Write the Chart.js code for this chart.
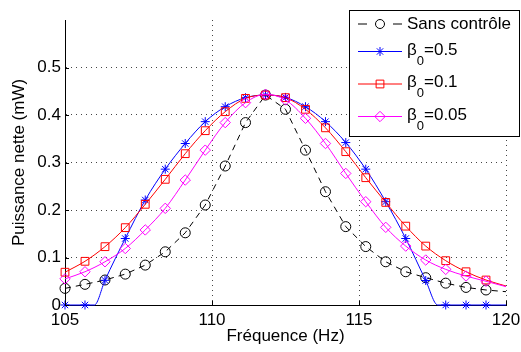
<!DOCTYPE html>
<html><head><meta charset="utf-8">
<script src="https://cdn.jsdelivr.net/npm/chart.js@4/dist/chart.umd.min.js"></script>
<style>html,body{margin:0;padding:0;background:#fff}#wrap{width:521px;height:352px}</style>
</head><body><div id="wrap"><canvas id="c" width="521" height="352"></canvas></div>
<script>
// ---- data ----
const freq = [105, 105.68, 106.36, 107.05, 107.73, 108.41, 109.09, 109.77, 110.45, 111.14, 111.82,
              112.5, 113.18, 113.86, 114.55, 115.23, 115.91, 116.59, 117.27, 117.95, 118.64, 119.32, 120];
const sansControle = [0.035, 0.0435, 0.0526, 0.065, 0.084, 0.112, 0.152, 0.2105, 0.2926, 0.384, 0.442,
                      0.412, 0.326, 0.2385, 0.165, 0.123, 0.091, 0.070, 0.0575, 0.046, 0.037, 0.0316, 0.028];
const beta05 = [0, 0, 0.052, 0.140, 0.221, 0.286, 0.340, 0.386, 0.4175, 0.4365, 0.442,
                0.437, 0.4175, 0.386, 0.342, 0.286, 0.2175, 0.140, 0.0515, 0, 0, 0, 0];
const beta05ZeroEdges = [106.0, 117.68];   // where the β0=0.5 curve leaves / reaches zero
const beta01 = [0.069, 0.092, 0.1228, 0.1628, 0.212, 0.2646, 0.3186, 0.367, 0.407, 0.435, 0.442,
                0.4365, 0.412, 0.373, 0.3228, 0.268, 0.216, 0.166, 0.124, 0.0933, 0.070, 0.0526, 0.040];
const beta005 = [0.055, 0.070, 0.091, 0.119, 0.158, 0.2035, 0.263, 0.326, 0.384, 0.426, 0.4435,
                 0.4316, 0.393, 0.340, 0.277, 0.2175, 0.1635, 0.124, 0.0947, 0.075, 0.061, 0.050, 0.0386];
const seriesNames = ['Sans contrôle', 'β_0=0.5', 'β_0=0.1', 'β_0=0.05'];
const xTicks = [105, 110, 115, 120];
const yTicks = [0, 0.1, 0.2, 0.3, 0.4, 0.5];
const xTitle = 'Fréquence (Hz)';
const yTitle = 'Puissance nette (mW)';

// ---- build datasets ----
const FONT = "'Liberation Sans', Arial, Helvetica, sans-serif";
const LAST_X = freq[freq.length - 1];
function pts(vals, extra) {
  const p = freq.map((f, i) => ({x: f, y: vals[i], m: f !== LAST_X}));
  (extra || []).forEach(x => p.push({x: x, y: 0, m: false}));
  p.sort((a, b) => a.x - b.x);
  return p;
}
const styles = [
  {color: '#000000', point: 'circle', r: 5, dash: [6, 5], mono: false},
  {color: '#0000ff', point: 'star', r: 4.5, dash: [], mono: true},
  {color: '#ff0000', point: 'rect', r: 5.5, dash: [], mono: true},
  {color: '#ff00ff', point: 'rectRot', r: 5.2, dash: [], mono: true}
];
const values = [sansControle, beta05, beta01, beta005];
const datasets = values.map((v, k) => {
  const d = pts(v, k === 1 ? beta05ZeroEdges : null);
  const s = styles[k];
  return {
    label: seriesNames[k].replace('_', ''),
    data: d.map(q => ({x: q.x, y: q.y})),
    borderColor: s.color,
    borderWidth: 1,
    borderDash: s.dash,
    pointStyle: s.point,
    pointRadius: d.map(q => q.m ? s.r : 0),
    pointBorderColor: s.color,
    pointBackgroundColor: 'rgba(0,0,0,0)',
    pointBorderWidth: 1,
    pointHoverRadius: 0,
    fill: false,
    tension: 0,
    cubicInterpolationMode: s.mono ? 'monotone' : 'default',
    clip: false,
    order: 3 - k
  };
});

function marker(ctx, style, r, x, y) {
  ctx.beginPath();
  if (style === 'circle') {
    ctx.arc(x, y, r, 0, Math.PI * 2);
  } else if (style === 'star') {
    const d = r * Math.SQRT1_2;
    ctx.moveTo(x - r, y); ctx.lineTo(x + r, y);
    ctx.moveTo(x, y - r); ctx.lineTo(x, y + r);
    ctx.moveTo(x - d, y - d); ctx.lineTo(x + d, y + d);
    ctx.moveTo(x - d, y + d); ctx.lineTo(x + d, y - d);
  } else if (style === 'rect') {
    const s = r * Math.SQRT1_2;
    ctx.rect(x - s, y - s, 2 * s, 2 * s);
  } else if (style === 'rectRot') {
    ctx.moveTo(x - r, y); ctx.lineTo(x, y - r); ctx.lineTo(x + r, y); ctx.lineTo(x, y + r); ctx.closePath();
  }
  ctx.stroke();
}

// small inward tick marks, MATLAB style
const innerTicks = {
  id: 'innerTicks',
  afterDraw(chart) {
    const ctx = chart.ctx, xs = chart.scales.x, ys = chart.scales.y, a = chart.chartArea;
    ctx.save();
    ctx.strokeStyle = '#000'; ctx.lineWidth = 1; ctx.setLineDash([]);
    ctx.beginPath();
    xTicks.forEach(v => { const px = Math.round(xs.getPixelForValue(v)) + 0.5; ctx.moveTo(px, a.bottom); ctx.lineTo(px, a.bottom - 4); });
    yTicks.forEach(v => { const py = Math.round(ys.getPixelForValue(v)) + 0.5; ctx.moveTo(a.left, py); ctx.lineTo(a.left + 4, py); });
    ctx.stroke();
    ctx.restore();
  }
};

const legendPlugin = {
  id: 'matlabLegend',
  afterDraw(chart) {
    const ctx = chart.ctx;
    ctx.save();
    const bx = 349.5, by = 10.5, bw = 170, bh = 126;
    ctx.fillStyle = '#fff';
    ctx.fillRect(bx, by, bw, bh);
    ctx.strokeStyle = '#000'; ctx.lineWidth = 1; ctx.setLineDash([]);
    ctx.strokeRect(bx, by, bw, bh);
    const rows = [24, 51.5, 84, 116.5];
    seriesNames.forEach((name, k) => {
      const s = styles[k], y = rows[k];
      ctx.strokeStyle = s.color; ctx.lineWidth = 1;
      ctx.setLineDash(k === 0 ? [9, 26] : []);
      ctx.beginPath(); ctx.moveTo(358, y); ctx.lineTo(402, y); ctx.stroke();
      ctx.setLineDash([]);
      marker(ctx, s.point, k === 0 ? 4.5 : s.r, 380, y);
      ctx.fillStyle = '#000';
      ctx.textBaseline = 'middle'; ctx.textAlign = 'left';
      const parts = name.split('_');
      let x = 407;
      if (parts.length === 1) {
        ctx.font = '17px ' + FONT;
        ctx.fillText(name, x, y + 0.5);
      } else {
        const ty = y - 1.5;
        ctx.font = '17px ' + FONT;
        ctx.fillText(parts[0], x, ty);
        x += ctx.measureText(parts[0]).width;
        const sub = parts[1].charAt(0), rest = parts[1].slice(1);
        ctx.font = '13px ' + FONT;
        ctx.fillText(sub, x, ty + 11);
        x += ctx.measureText(sub).width;
        ctx.font = '17px ' + FONT;
        ctx.fillText(rest, x, ty);
      }
    });
    ctx.restore();
  }
};

new Chart(document.getElementById('c'), {
  type: 'line',
  data: {datasets: datasets},
  plugins: [innerTicks, legendPlugin],
  options: {
    responsive: false,
    animation: false,
    devicePixelRatio: 1,
    layout: {padding: {top: 20, right: 15, left: 0, bottom: 0}},
    plugins: {legend: {display: false}, tooltip: {enabled: false}},
    scales: {
      x: {
        type: 'linear', min: 105, max: 120,
        afterBuildTicks: sc => { sc.ticks = xTicks.map(v => ({value: v})); },
        afterFit: sc => { sc.height = 47; sc.paddingLeft = 0; sc.paddingRight = 0; },
        ticks: {color: '#000', font: {family: FONT, size: 17}, padding: 5, maxRotation: 0, autoSkip: false},
        grid: {color: '#444', lineWidth: 1, drawTicks: false},
        border: {display: true, color: '#000', width: 1, dash: [1, 4]},
        title: {display: true, text: xTitle, color: '#000', font: {family: FONT, size: 17}, padding: {top: 0, bottom: 5}}
      },
      y: {
        type: 'linear', min: 0, max: 0.6,
        afterBuildTicks: sc => { sc.ticks = yTicks.map(v => ({value: v})); },
        afterFit: sc => { sc.width = 65; sc.paddingTop = 0; sc.paddingBottom = 0; },
        ticks: {color: '#000', font: {family: FONT, size: 17}, padding: 4, callback: v => String(+v.toFixed(1))},
        grid: {color: '#444', lineWidth: 1, drawTicks: false},
        border: {display: true, color: '#000', width: 1, dash: [1, 4]},
        title: {display: true, text: yTitle, color: '#000', font: {family: FONT, size: 17}, padding: {top: 9, bottom: 0}}
      }
    }
  }
});
</script>
</body></html>
